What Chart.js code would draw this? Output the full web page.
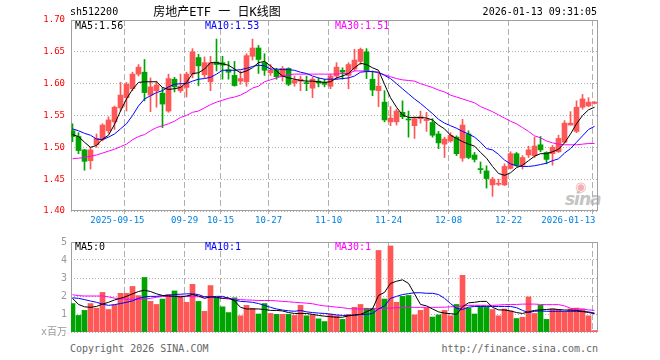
<!DOCTYPE html>
<html>
<head>
<meta charset="utf-8">
<script src="https://cdn.jsdelivr.net/npm/chart.js@4.4.1/dist/chart.umd.min.js"></script>
<style>
body { margin: 0; background: #fff; }
#wrap { position: relative; width: 660px; height: 360px; overflow: hidden; font-family: "DejaVu Sans Mono", "Noto Sans CJK SC", monospace; font-size: 10px; }
.t { position: absolute; white-space: nowrap; line-height: 12px; }
canvas { position: absolute; left: 0; }
#sina { left: 565px; top: 190px; font: italic bold 17px "DejaVu Sans", sans-serif; color: #c4c4c4; line-height: 18px; letter-spacing: -1px; }
#eye { left: 575px; top: 180px; font: 13px "DejaVu Sans", sans-serif; color: #f2b0b0; line-height: 14px; }
</style>
</head>
<body>
<div id="wrap">
  <div class="t" id="eye">◉</div>
  <div class="t" id="sina">sina</div>
  <canvas id="kline" width="660" height="232" style="top:0"></canvas>
  <canvas id="vol" width="660" height="110" style="top:232px"></canvas>

  <div class="t" style="left:70px;top:6px;color:#000">sh512200</div>
  <div class="t" style="left:217px;top:5px;transform:translateX(-50%);font-size:12px;line-height:14px;color:#000">房地产ETF 一 日K线图</div>
  <div class="t" style="right:63px;top:6px;color:#000">2026-01-13 09:31:05</div>

  <div class="t" style="left:75px;top:20px;color:#000">MA5:1.56</div>
  <div class="t" style="left:205px;top:20px;color:#0000ff">MA10:1.53</div>
  <div class="t" style="left:335px;top:20px;color:#ff00ff">MA30:1.51</div>

  <div class="t" style="left:75px;top:241px;color:#000">MA5:0</div>
  <div class="t" style="left:205px;top:241px;color:#0000ff">MA10:1</div>
  <div class="t" style="left:335px;top:241px;color:#ff00ff">MA30:1</div>

  <div class="t" style="left:70px;top:343px;color:#666">Copyright 2026 SINA.COM</div>
  <div class="t" style="right:62px;top:343px;color:#666">http://finance.sina.com.cn</div>
</div>
<script>
// daily candles, 2025-09-02 .. 2026-01-13 (88 trading days)
const open = [1.526,1.517,1.496,1.479,1.504,1.513,1.526,1.540,1.562,1.578,
  1.592,1.615,1.618,1.582,1.589,1.585,1.557,1.607,1.589,1.594,
  1.615,1.641,1.614,1.603,1.634,1.633,1.622,1.613,1.604,1.603,
  1.643,1.656,1.633,1.617,1.621,1.611,1.624,1.601,1.604,1.601,
  1.593,1.604,1.602,1.596,1.612,1.621,1.613,1.623,1.635,1.650,
  1.607,1.589,1.571,1.540,1.540,1.555,1.544,1.534,1.545,1.542,
  1.539,1.521,1.505,1.510,1.516,1.483,1.521,1.488,1.466,1.463,
  1.441,1.442,1.441,1.467,1.490,1.472,1.488,1.487,1.504,1.492,
  1.490,1.493,1.508,1.535,1.525,1.563,1.565,1.569];
const high = [1.537,1.523,1.497,1.500,1.521,1.537,1.548,1.565,1.602,1.602,
  1.618,1.630,1.638,1.609,1.604,1.594,1.615,1.610,1.615,1.618,
  1.655,1.646,1.642,1.643,1.670,1.643,1.635,1.635,1.620,1.647,
  1.670,1.660,1.647,1.630,1.624,1.627,1.625,1.612,1.612,1.612,
  1.610,1.609,1.607,1.615,1.633,1.625,1.633,1.654,1.656,1.655,
  1.620,1.616,1.589,1.564,1.560,1.573,1.557,1.548,1.557,1.555,
  1.545,1.525,1.516,1.523,1.518,1.544,1.526,1.492,1.477,1.471,
  1.453,1.450,1.474,1.493,1.492,1.487,1.502,1.516,1.517,1.493,
  1.503,1.519,1.542,1.556,1.573,1.583,1.578,1.572];
const low = [1.509,1.490,1.464,1.466,1.500,1.510,1.522,1.528,1.557,1.557,
  1.589,1.612,1.573,1.556,1.563,1.531,1.555,1.587,1.586,1.579,
  1.609,1.597,1.609,1.589,1.620,1.607,1.607,1.596,1.599,1.596,
  1.637,1.616,1.613,1.613,1.607,1.604,1.597,1.596,1.589,1.589,
  1.578,1.595,1.595,1.592,1.607,1.607,1.592,1.620,1.630,1.608,
  1.581,1.564,1.540,1.534,1.535,1.545,1.516,1.514,1.538,1.525,
  1.516,1.498,1.484,1.508,1.487,1.478,1.482,1.477,1.459,1.436,
  1.423,1.440,1.440,1.466,1.470,1.466,1.484,1.484,1.493,1.474,
  1.472,1.492,1.507,1.535,1.523,1.560,1.564,1.568];
const close = [1.517,1.495,1.478,1.496,1.514,1.535,1.543,1.563,1.582,1.599,
  1.615,1.626,1.586,1.595,1.598,1.568,1.608,1.595,1.596,1.615,
  1.650,1.628,1.633,1.633,1.630,1.629,1.618,1.597,1.608,1.644,
  1.656,1.638,1.621,1.621,1.611,1.624,1.599,1.605,1.607,1.600,
  1.607,1.601,1.599,1.612,1.626,1.618,1.630,1.637,1.654,1.620,
  1.590,1.596,1.543,1.546,1.557,1.548,1.543,1.545,1.548,1.544,
  1.519,1.507,1.513,1.519,1.490,1.535,1.484,1.481,1.465,1.451,
  1.450,1.443,1.470,1.490,1.472,1.484,1.496,1.502,1.496,1.481,
  1.500,1.514,1.538,1.538,1.563,1.576,1.571,1.571];

const ma5 = [1.520,1.517,1.508,1.500,1.503,1.513,1.519,1.536,1.557,1.576,
  1.591,1.602,1.603,1.603,1.603,1.594,1.591,1.592,1.594,1.602,
  1.616,1.617,1.623,1.633,1.633,1.631,1.629,1.623,1.617,1.620,
  1.625,1.633,1.635,1.628,1.620,1.612,1.609,1.607,1.605,1.604,
  1.604,1.603,1.602,1.603,1.609,1.612,1.616,1.625,1.632,1.630,
  1.625,1.621,1.599,1.578,1.563,1.551,1.547,1.547,1.547,1.546,
  1.543,1.535,1.529,1.519,1.514,1.509,1.505,1.502,1.492,1.483,
  1.470,1.459,1.456,1.460,1.468,1.472,1.479,1.486,1.490,1.490,
  1.493,1.497,1.507,1.521,1.537,1.550,1.559,1.563];
const ma10 = [1.529,1.526,1.522,1.519,1.513,1.512,1.516,1.521,1.529,1.537,
  1.550,1.565,1.576,1.581,1.586,1.589,1.595,1.599,1.600,1.600,
  1.604,1.607,1.608,1.610,1.615,1.621,1.621,1.621,1.622,1.624,
  1.627,1.629,1.628,1.623,1.623,1.622,1.622,1.621,1.618,1.616,
  1.612,1.609,1.607,1.607,1.607,1.608,1.609,1.612,1.618,1.619,
  1.619,1.618,1.613,1.608,1.600,1.592,1.584,1.576,1.569,1.561,
  1.553,1.544,1.538,1.534,1.530,1.525,1.521,1.516,1.508,1.498,
  1.496,1.489,1.480,1.474,1.471,1.470,1.470,1.471,1.473,1.475,
  1.479,1.482,1.491,1.498,1.508,1.518,1.528,1.533];
const ma30 = [1.482,1.483,1.484,1.486,1.488,1.491,1.494,1.497,1.501,1.505,
  1.512,1.517,1.520,1.526,1.531,1.534,1.537,1.541,1.547,1.550,
  1.555,1.557,1.562,1.567,1.571,1.574,1.577,1.579,1.582,1.587,
  1.593,1.596,1.603,1.606,1.609,1.612,1.614,1.615,1.615,1.615,
  1.615,1.615,1.615,1.615,1.615,1.616,1.616,1.620,1.620,1.620,
  1.619,1.617,1.614,1.611,1.608,1.606,1.605,1.604,1.600,1.597,
  1.594,1.590,1.587,1.582,1.579,1.576,1.573,1.570,1.564,1.560,
  1.556,1.551,1.546,1.541,1.537,1.531,1.525,1.518,1.515,1.510,
  1.507,1.505,1.504,1.504,1.504,1.505,1.506,1.506];

// volume, millions
const volume = [1.58,0.92,1.20,1.58,1.32,2.20,1.25,1.50,2.15,2.15,
  2.53,2.02,3.03,1.70,1.53,1.83,2.08,2.28,2.00,1.65,
  2.65,1.70,1.15,2.58,1.87,1.40,1.08,1.90,0.90,1.48,
  1.32,1.00,1.58,1.03,0.98,0.98,0.98,0.92,1.48,0.90,
  0.98,0.73,0.58,0.98,0.90,0.70,0.98,1.37,1.53,1.32,
  1.32,4.53,1.83,4.78,1.65,1.98,2.03,0.95,1.20,1.33,
  0.83,0.95,1.20,0.90,1.53,3.15,1.33,1.00,1.42,1.37,
  1.25,0.90,1.28,1.17,0.75,0.82,1.95,1.03,1.48,0.70,
  1.28,1.25,1.12,1.28,1.33,1.28,0.90,0.08];
const volMa5 = [1.87,1.53,1.40,1.37,1.42,1.55,1.65,1.78,1.87,1.98,
  2.12,2.25,2.32,2.25,2.12,2.03,2.00,1.98,1.95,2.00,
  2.08,2.00,1.87,1.95,1.92,1.87,1.90,1.73,1.37,1.28,
  1.28,1.28,1.25,1.20,1.20,1.17,1.08,1.03,1.03,1.03,
  0.98,0.92,0.88,0.85,0.82,0.82,0.90,0.95,0.98,1.12,
  1.28,2.03,2.20,2.70,2.82,2.90,2.70,2.12,1.53,1.45,
  1.28,1.12,1.05,1.02,0.98,1.40,1.62,1.65,1.70,1.70,
  1.37,1.23,1.22,1.17,1.08,1.03,1.12,1.20,1.23,1.25,
  1.28,1.25,1.22,1.22,1.20,1.15,1.08,1.02];
const volMa10 = [1.90,1.87,1.80,1.72,1.65,1.55,1.48,1.52,1.58,1.65,
  1.73,1.87,1.95,1.98,1.98,2.02,2.05,2.08,2.10,2.12,
  2.12,2.08,1.95,1.95,1.98,1.98,1.87,1.78,1.70,1.68,
  1.65,1.58,1.48,1.37,1.28,1.22,1.18,1.15,1.20,1.12,
  1.08,1.05,1.03,1.00,0.95,0.92,0.92,0.93,0.97,0.98,
  1.03,1.28,1.45,1.87,1.98,2.08,2.13,2.18,2.18,2.15,
  2.15,2.08,1.87,1.58,1.32,1.25,1.38,1.42,1.42,1.42,
  1.42,1.42,1.42,1.42,1.35,1.20,1.08,1.15,1.17,1.15,
  1.15,1.15,1.15,1.15,1.15,1.13,1.12,1.05];
const volMa30 = [2.07,2.02,2.00,2.00,2.00,2.00,1.95,1.88,1.85,1.82,
  1.82,1.82,1.82,1.87,1.93,1.97,1.98,1.98,1.98,1.98,
  1.97,1.95,1.97,1.98,1.93,1.88,1.83,1.82,1.80,1.78,
  1.77,1.75,1.75,1.75,1.73,1.70,1.68,1.65,1.63,1.60,
  1.57,1.50,1.45,1.42,1.38,1.35,1.30,1.28,1.28,1.28,
  1.28,1.30,1.32,1.33,1.35,1.35,1.37,1.37,1.37,1.37,
  1.37,1.37,1.38,1.40,1.42,1.45,1.48,1.48,1.48,1.48,
  1.48,1.50,1.52,1.53,1.53,1.55,1.55,1.55,1.53,1.52,
  1.52,1.52,1.45,1.32,1.28,1.27,1.23,1.20];

const tickIdx = [9, 19, 25, 33, 43, 53, 63, 73, 87];
const tickLabels = ['2025-09-15','09-29','10-15','10-27','11-10','11-24','12-08','12-22','2026-01-13'];
const priceTicks = [1.40, 1.45, 1.50, 1.55, 1.60, 1.65, 1.70];
const volTicks = [0, 1, 2, 3, 4, 5];

const RED = '#ff5656', GREEN = '#00a400', GRID = '#b0b0b0';
const MONO = '"DejaVu Sans Mono", "Noto Sans CJK SC", monospace';
const xMin = -0.25, xMax = 87.58, lineShift = -0.33;

const idx = close.map((c, i) => i);
const candleColor = idx.map(i => close[i] >= open[i] ? RED : GREEN);
const pts = arr => arr.map((v, i) => ({ x: i, y: v }));

const frame = {
  id: 'frame',
  beforeDatasetsDraw(chart) {
    const { ctx, chartArea: a } = chart;
    ctx.save();
    ctx.strokeStyle = '#a0a0a0';
    ctx.lineWidth = 1;
    ctx.strokeRect(a.left + 0.5, a.top + 0.5, a.width - 1, a.height - 1);
    ctx.restore();
  }
};

// date labels under the k-line panel; first sits left of its line, last flush right
const dateLabels = {
  id: 'dateLabels',
  afterDraw(chart) {
    const sc = chart.scales.x, ctx = chart.ctx;
    const n = tickIdx.length;
    ctx.save();
    ctx.font = '9px ' + MONO;
    ctx.fillStyle = '#0080e0';
    ctx.textBaseline = 'middle';
    tickIdx.forEach((d, k) => {
      const x = sc.getPixelForValue(d + lineShift);
      let dx = 0;
      ctx.textAlign = 'center';
      if (k === 0) { ctx.textAlign = 'right'; dx = 20; }
      if (k === n - 1) { ctx.textAlign = 'right'; dx = 3; }
      ctx.fillText(tickLabels[k], x + dx, chart.chartArea.bottom + 10);
    });
    ctx.restore();
  }
};

function xScale(tickLen, h) {
  return {
    type: 'linear', min: xMin, max: xMax, offset: false,
    afterBuildTicks: s => { s.ticks = tickIdx.map(d => ({ value: d + lineShift })); },
    afterFit: s => { s.height = h; },
    ticks: { display: false },
    grid: { offset: false, color: GRID, drawTicks: tickLen > 0, tickLength: tickLen, tickColor: GRID, tickBorderDash: [] },
    border: { display: false, dash: [6, 3] }
  };
}

function maLine(data, color) {
  return { type: 'line', data: pts(data), borderColor: color, borderWidth: 1, pointRadius: 0, tension: 0, order: 0 };
}

const common = {
  responsive: false,
  maintainAspectRatio: false,
  animation: false,
  devicePixelRatio: 1,
  events: [],
  plugins: { legend: { display: false }, tooltip: { enabled: false } }
};

new Chart(document.getElementById('kline'), {
  type: 'bar',
  data: {
    datasets: [
      maLine(ma5, '#000000'),
      maLine(ma10, '#0000ff'),
      maLine(ma30, '#ff00ff'),
      { data: idx.map(i => ({ x: i, y: [open[i], close[i]] })), backgroundColor: candleColor,
        barThickness: 5, grouped: false, minBarLength: 1, borderWidth: 0, order: 1 },
      { data: idx.map(i => ({ x: i, y: [low[i], high[i]] })), backgroundColor: candleColor,
        barThickness: 1, grouped: false, borderWidth: 0, order: 2 }
    ]
  },
  options: {
    ...common,
    layout: { padding: { top: 20, right: 62, bottom: 0, left: 0 } },
    scales: {
      x: xScale(3, 21),
      y: {
        min: 1.40, max: 1.70,
        afterBuildTicks: s => { s.ticks = priceTicks.map(v => ({ value: v })); },
        afterFit: s => { s.width = 71; },
        ticks: { color: '#ff0000', padding: 6, font: { family: MONO, size: 9 }, callback: v => v.toFixed(2) },
        grid: { color: GRID, drawTicks: false },
        border: { display: false, dash: [1, 2] }
      }
    }
  },
  plugins: [frame, dateLabels]
});

new Chart(document.getElementById('vol'), {
  type: 'bar',
  data: {
    datasets: [
      maLine(volMa5, '#000000'),
      maLine(volMa10, '#0000ff'),
      maLine(volMa30, '#ff00ff'),
      { data: idx.map(i => ({ x: i, y: volume[i] })), backgroundColor: candleColor,
        barThickness: 5, grouped: false, borderWidth: 0, order: 1 }
    ]
  },
  options: {
    ...common,
    layout: { padding: { top: 9, right: 62, bottom: 1, left: 0 } },
    scales: {
      x: xScale(0, 0),
      y: {
        min: 0, max: 5,
        afterBuildTicks: s => { s.ticks = volTicks.map(v => ({ value: v })); },
        afterFit: s => { s.width = 71; },
        ticks: { color: '#9a9a9a', padding: 4, font: { family: MONO, size: 10 }, callback: v => v === 0 ? 'x百万' : String(v) },
        grid: { color: GRID, drawTicks: false },
        border: { display: false, dash: [1, 2] }
      }
    }
  },
  plugins: [frame]
});
</script>
</body>
</html>
